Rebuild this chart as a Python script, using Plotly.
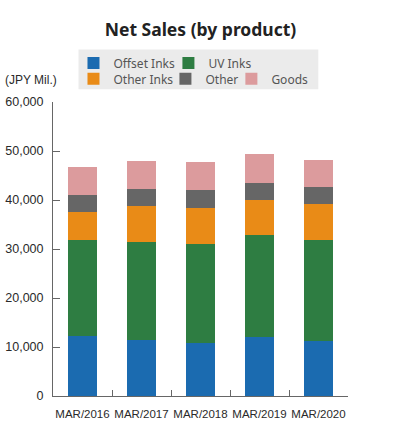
import plotly.graph_objects as go

categories = ["MAR/2016", "MAR/2017", "MAR/2018", "MAR/2019", "MAR/2020"]
offset_inks = [12150, 11480, 10740, 11950, 11210]
uv_inks = [19650, 19990, 20260, 21010, 20660]
other_inks = [5700, 7310, 7380, 6980, 7390]
other = [3600, 3530, 3660, 3590, 3320]
goods = [5550, 5550, 5760, 5960, 5490]

y_ticks = [0, 10000, 20000, 30000, 40000, 50000, 60000]

W, H = 397, 437
ml, mr, mt, mb = 52.5, 49.3, 101.7, 40.5
ph = H - mt - mb
pw = W - ml - mr

def py(px):
    return (H - mb - px) / ph

def pxx(px):
    return (px - ml) / pw

# (name, values, colour, legend id, legend text-start px, legend row centre px)
series = [
    ("Offset Inks", offset_inks, "#1b6bb0", "legend", 114, 62.5),
    ("UV Inks", uv_inks, "#2e7d42", "legend2", 209, 62.5),
    ("Other Inks", other_inks, "#e98b17", "legend3", 114, 78.5),
    ("Other", other, "#666666", "legend4", 206, 78.5),
    ("Goods", goods, "#dc9b9d", "legend5", 272, 78.5),
]

AXFONT = "Liberation Sans, Arial, sans-serif"

legend_font = dict(family="Noto Sans, sans-serif", size=12, color="#555555")

fig = go.Figure()
legends = {}
for name, vals, color, lg, tx, ty in series:
    fig.add_trace(go.Bar(
        x=categories, y=vals, name=name, marker=dict(color=color, line=dict(width=0)),
        legend=lg, showlegend=True,
    ))
    legends[lg] = dict(orientation="h", x=pxx(tx - 41), xanchor="left", y=py(ty),
                       yanchor="middle", bgcolor="rgba(0,0,0,0)", font=legend_font)

fig.update_layout(
    width=W, height=H,
    showlegend=True,
    margin=dict(l=ml, r=mr, t=mt, b=mb, pad=0, autoexpand=False),
    barmode="stack",
    bargap=0.525,
    plot_bgcolor="white",
    paper_bgcolor="white",
    title=dict(text="<b>Net Sales (by product)</b>", x=0.5, xref="paper", xanchor="center",
               y=1 - 30 / H, yanchor="middle",
               font=dict(family="Noto Sans, sans-serif", size=17.5, color="#222222")),
    xaxis=dict(showline=True, linecolor="#666666", linewidth=1, ticks="inside",
               tickson="boundaries", ticklen=6, tickcolor="#666666", tickangle=0,
               ticklabelstandoff=7,
               tickfont=dict(family=AXFONT, size=11.5, color="#2a2a2a"),
               showgrid=False, zeroline=False),
    yaxis=dict(range=[0, 60000], tickvals=y_ticks, tickformat=",", showline=True,
               linecolor="#666666", linewidth=1, ticks="inside", ticklen=7,
               tickcolor="#666666", showgrid=False, zeroline=False,
               ticklabelstandoff=6,
               tickfont=dict(family=AXFONT, size=12.5, color="#2a2a2a")),
    shapes=[dict(type="rect", xref="paper", yref="paper", layer="below",
                 x0=pxx(78), x1=pxx(318), y0=py(89), y1=py(49),
                 fillcolor="#ebebeb", line=dict(width=0))],
    annotations=[dict(text="(JPY Mil.)", xref="paper", yref="paper",
                      x=pxx(2), xanchor="left", y=py(80), yanchor="middle",
                      showarrow=False, font=dict(family=AXFONT, size=12, color="#2a2a2a"))],
    **legends,
)

fig.write_html("out.html",
               config={"displayModeBar": False},
               post_script="document.body.style.margin='0';document.body.style.overflow='hidden';")
